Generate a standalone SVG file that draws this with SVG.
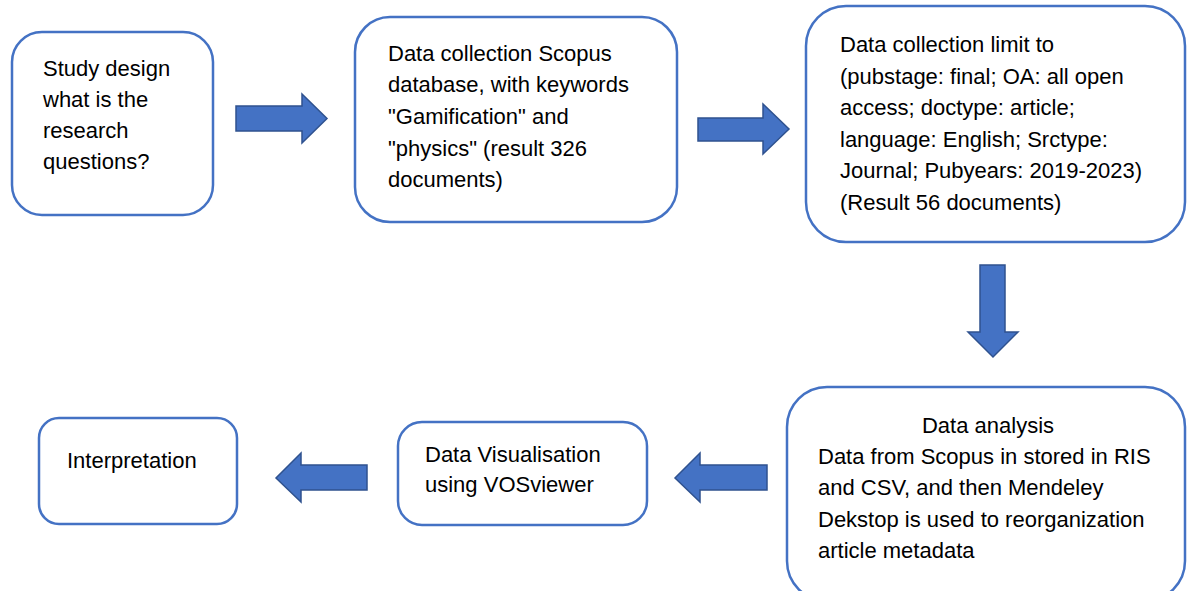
<svg xmlns="http://www.w3.org/2000/svg" width="1187" height="591" viewBox="0 0 1187 591">
<style>
.box{fill:#ffffff;stroke:#4472C4;stroke-width:2.5}
.arrow{fill:#4472C4;stroke:#2F528F;stroke-width:1.5;stroke-linejoin:miter}
text{font-family:"Liberation Sans",Arial,sans-serif;font-size:22px;fill:#000000}
</style>
<rect width="1187" height="591" fill="#ffffff"/>
<g id="connectors">
<polygon class="arrow" points="236,106 302,106 302,94 327,118.5 302,143 302,131 236,131"/>
<polygon class="arrow" points="698,118 763,118 763,104 789,129 763,154 763,141 698,141"/>
<polygon class="arrow" points="980,265 1005,265 1005,332 1018,332 993,357 968,332 980,332"/>
<polygon class="arrow" points="767,465 700,465 700,453 675,478 700,502 700,490 767,490"/>
<polygon class="arrow" points="367,465 301,465 301,453 276,478 301,502 301,490 367,490"/>
</g>
<g id="study-design">
<rect class="box" x="12" y="32" width="201" height="183" rx="30"/>
<text x="43" y="76">Study design</text>
<text x="43" y="107">what is the</text>
<text x="43" y="138">research</text>
<text x="43" y="169">questions?</text>
</g>
<g id="data-collection">
<rect class="box" x="355" y="17" width="322" height="205" rx="35"/>
<text x="388" y="61">Data collection Scopus</text>
<text x="388" y="92">database, with keywords</text>
<text x="388" y="124">"Gamification" and</text>
<text x="388" y="156">"physics" (result 326</text>
<text x="388" y="187">documents)</text>
</g>
<g id="data-limit">
<rect class="box" x="806" y="6" width="379" height="236" rx="40"/>
<text x="840" y="52">Data collection limit to</text>
<text x="840" y="83.5">(pubstage: final; OA: all open</text>
<text x="840" y="115">access; doctype: article;</text>
<text x="840" y="146.5">language: English; Srctype:</text>
<text x="840" y="178">Journal; Pubyears: 2019-2023)</text>
<text x="840" y="209.5">(Result 56 documents)</text>
</g>
<g id="data-analysis">
<rect class="box" x="787" y="387" width="398" height="214" rx="40"/>
<text x="988" y="433" text-anchor="middle">Data analysis</text>
<text x="818" y="464">Data from Scopus in stored in RIS</text>
<text x="818" y="495">and CSV, and then Mendeley</text>
<text x="818" y="527">Dekstop is used to reorganization</text>
<text x="818" y="558">article metadata</text>
</g>
<g id="data-visualisation">
<rect class="box" x="398" y="422" width="249" height="103" rx="24"/>
<text x="425" y="462">Data Visualisation</text>
<text x="425" y="492">using VOSviewer</text>
</g>
<g id="interpretation">
<rect class="box" x="39" y="418" width="198" height="106" rx="20"/>
<text x="67" y="468">Interpretation</text>
</g>
</svg>
